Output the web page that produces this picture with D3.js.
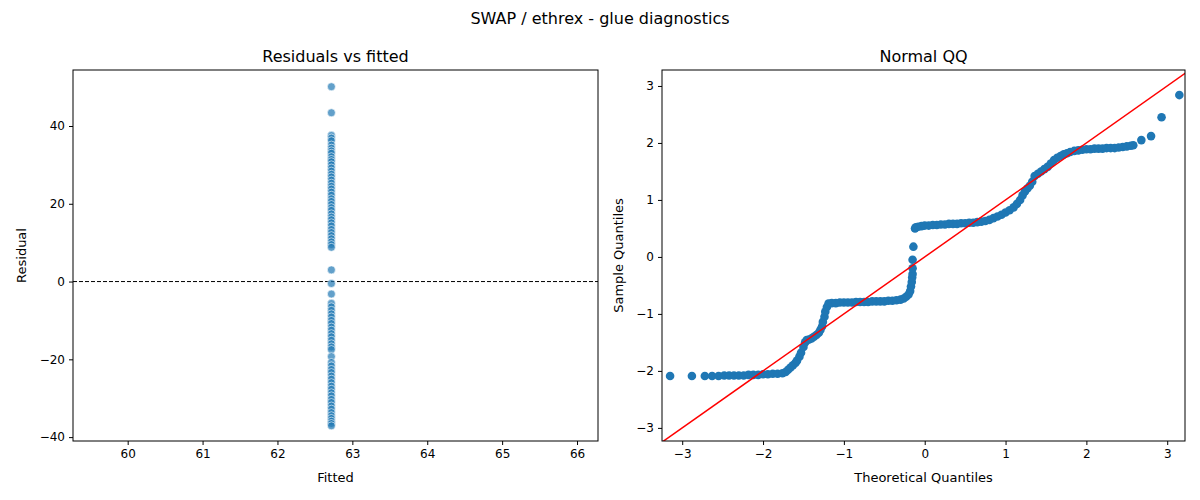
<!DOCTYPE html>
<html><head><meta charset="utf-8">
<script src="https://cdn.jsdelivr.net/npm/d3@7"></script>
<style>body{margin:0;background:#fff}text{font-family:"DejaVu Sans",sans-serif}</style>
</head><body><svg id="c" width="1200" height="500"></svg>
<script>
const fittedValue = 62.72
const residuals = [50.1, 43.4, 37.6, 36.9, 36.2, 35.1, 34.3, 33.6, 33.0, 32.1, 31.4, 30.8, 30.0, 29.2, 28.4, 27.6, 26.9, 26.1, 25.3, 24.5,
  23.8, 23.0, 22.2, 21.3, 20.6, 19.8, 19.0, 18.3, 17.4, 16.6, 15.9, 15.1, 14.3, 13.4, 12.6, 11.8, 11.0, 10.2, 9.5, 8.8,
  3.0, -0.5, -3.2, -5.6, -6.5, -7.4, -8.3, -9.1, -10.0, -10.8, -11.7, -12.5, -13.4, -14.2, -15.1, -16.0, -16.8, -17.5, -19.3,
  -20.8, -21.7, -22.6, -23.4, -24.3, -25.1, -26.0, -26.9, -27.7, -28.6, -29.4, -30.3, -31.1, -32.0, -32.8, -33.7, -34.5, -35.2, -35.9, -36.5, -37.1]
const residXTicks = [60, 61, 62, 63, 64, 65, 66]
const residYTicks = [-40, -20, 0, 20, 40]
const qqX = [-3.15, -2.88, -2.72, -2.63, -2.55, -2.48, -2.42, -2.36, -2.3, -2.24, -2.18, -2.12, -2.06, -2.0, -1.94, -1.88, -1.82, -1.76, -1.72, -1.69,
  -1.66, -1.63, -1.6, -1.58, -1.55, -1.53, -1.5, -1.48, -1.46, -1.43, -1.4, -1.37, -1.34, -1.31, -1.29, -1.27, -1.26, -1.24, -1.23, -1.21,
  -1.19, -1.15, -1.1, -1.05, -1.0, -0.95, -0.9, -0.85, -0.8, -0.75, -0.7, -0.65, -0.6, -0.55, -0.5, -0.45, -0.4, -0.35, -0.3, -0.26,
  -0.23, -0.2, -0.18, -0.17, -0.16, -0.155, -0.15, -0.15, -0.15, -0.14, -0.12, -0.11, -0.08, -0.04, 0.0, 0.05, 0.1, 0.15, 0.2, 0.25,
  0.3, 0.35, 0.4, 0.45, 0.5, 0.55, 0.6, 0.65, 0.7, 0.75, 0.8, 0.85, 0.9, 0.95, 1.0, 1.05, 1.1, 1.14, 1.18, 1.21,
  1.24, 1.27, 1.3, 1.33, 1.36, 1.4, 1.44, 1.48, 1.52, 1.56, 1.6, 1.64, 1.68, 1.72, 1.76, 1.8, 1.85, 1.9, 1.95, 2.0,
  2.05, 2.1, 2.15, 2.2, 2.25, 2.3, 2.35, 2.4, 2.45, 2.5, 2.55, 2.58, 2.68, 2.8, 2.93, 3.15]
const qqY = [-2.09, -2.09, -2.09, -2.09, -2.09, -2.08, -2.08, -2.08, -2.08, -2.08, -2.07, -2.07, -2.07, -2.06, -2.06, -2.05, -2.05, -2.04, -2.02, -1.98,
  -1.94, -1.9, -1.86, -1.82, -1.75, -1.68, -1.58, -1.5, -1.46, -1.45, -1.43, -1.4, -1.37, -1.33, -1.28, -1.22, -1.14, -1.05, -0.96, -0.88,
  -0.82, -0.81, -0.81, -0.8, -0.8, -0.8, -0.8, -0.79, -0.79, -0.79, -0.79, -0.78, -0.78, -0.78, -0.78, -0.77, -0.77, -0.76, -0.75, -0.73,
  -0.7, -0.66, -0.6, -0.52, -0.44, -0.36, -0.3, -0.2, -0.05, 0.18, 0.5, 0.52, 0.53, 0.54, 0.55, 0.55, 0.56, 0.56, 0.57, 0.57,
  0.58, 0.58, 0.58, 0.59, 0.59, 0.6, 0.6, 0.61, 0.62, 0.63, 0.65, 0.68, 0.71, 0.74, 0.78, 0.82, 0.87, 0.93, 1.0, 1.08,
  1.15, 1.2, 1.25, 1.32, 1.42, 1.46, 1.5, 1.54, 1.58, 1.64, 1.7, 1.74, 1.77, 1.8, 1.82, 1.84, 1.86, 1.87, 1.88, 1.89,
  1.89, 1.9, 1.9, 1.9, 1.91, 1.91, 1.91, 1.92, 1.93, 1.94, 1.95, 1.96, 2.05, 2.12, 2.45, 2.84]
const qqTicks = [-3, -2, -1, 0, 1, 2, 3]

const svg = d3.select('#c')
const blue = '#1f77b4'

svg.append('text').attr('x', 600).attr('y', 24).attr('text-anchor', 'middle')
    .attr('font-size', 16).text('SWAP / ethrex - glue diagnostics')

function frame (g, x, y, title, xlab, ylab, xt, yt, ylx) {
    const [x0, x1] = x.range(), [y1, y0] = y.range()
    g.append('g').attr('transform', `translate(0,${y1})`)
        .call(d3.axisBottom(x).tickValues(xt).tickSize(4).tickPadding(4).tickFormat(d => d3.format('')(d).replace('-', '\u2212')))
    g.append('g').attr('transform', `translate(${x0},0)`)
        .call(d3.axisLeft(y).tickValues(yt).tickSize(4).tickPadding(4).tickFormat(d => d3.format('')(d).replace('-', '\u2212')))
    g.selectAll('.domain').remove()
    g.selectAll('.tick text').attr('font-size', 12).attr('fill', '#000')
    g.selectAll('.tick line').attr('stroke', '#000')
    g.append('rect').attr('x', x0).attr('y', y0).attr('width', x1 - x0).attr('height', y1 - y0)
        .attr('fill', 'none').attr('stroke', '#000').attr('stroke-width', 1)
    g.append('text').attr('x', (x0 + x1) / 2).attr('y', y0 - 8).attr('text-anchor', 'middle')
        .attr('font-size', 16).text(title)
    g.append('text').attr('x', (x0 + x1) / 2).attr('y', y1 + 41).attr('text-anchor', 'middle')
        .attr('font-size', 13).text(xlab)
    g.append('text').attr('transform', `translate(${ylx},${(y0 + y1) / 2}) rotate(-90)`)
        .attr('text-anchor', 'middle').attr('font-size', 13).text(ylab)
}

// left: residuals vs fitted
const xL = d3.scaleLinear().domain([59.27, 66.28]).range([73, 598])
const yL = d3.scaleLinear().domain([-41.0, 54.4]).range([441, 70])
const gL = svg.append('g')
gL.append('line').attr('x1', 73).attr('x2', 598).attr('y1', yL(0)).attr('y2', yL(0))
    .attr('stroke', '#000').attr('stroke-dasharray', '4,2').attr('stroke-width', 1)
gL.selectAll('circle').data(residuals).join('circle')
    .attr('cx', xL(fittedValue)).attr('cy', d => yL(d)).attr('r', 4)
    .attr('fill', blue).attr('fill-opacity', 0.7).attr('stroke', '#fff').attr('stroke-width', 0.6)
frame(gL, xL, yL, 'Residuals vs fitted', 'Fitted', 'Residual', residXTicks, residYTicks, 26)

// right: normal QQ
const xR = d3.scaleLinear().domain([-3.25, 3.22]).range([662, 1185])
const yR = d3.scaleLinear().domain([-3.23, 3.28]).range([441, 70])
const gR = svg.append('g')
const clip = svg.append('clipPath').attr('id', 'qc').append('rect')
    .attr('x', 662).attr('y', 70).attr('width', 523).attr('height', 371)
gR.selectAll('circle').data(qqX).join('circle')
    .attr('cx', d => xR(d)).attr('cy', (d, i) => yR(qqY[i])).attr('r', 4.3).attr('fill', blue)
gR.append('line').attr('clip-path', 'url(#qc)')
    .attr('x1', xR(-3.5)).attr('y1', yR(-3.5)).attr('x2', xR(3.5)).attr('y2', yR(3.5))
    .attr('stroke', 'red').attr('stroke-width', 1.5)
frame(gR, xR, yR, 'Normal QQ', 'Theoretical Quantiles', 'Sample Quantiles', qqTicks, qqTicks, 623)
</script></body></html>
